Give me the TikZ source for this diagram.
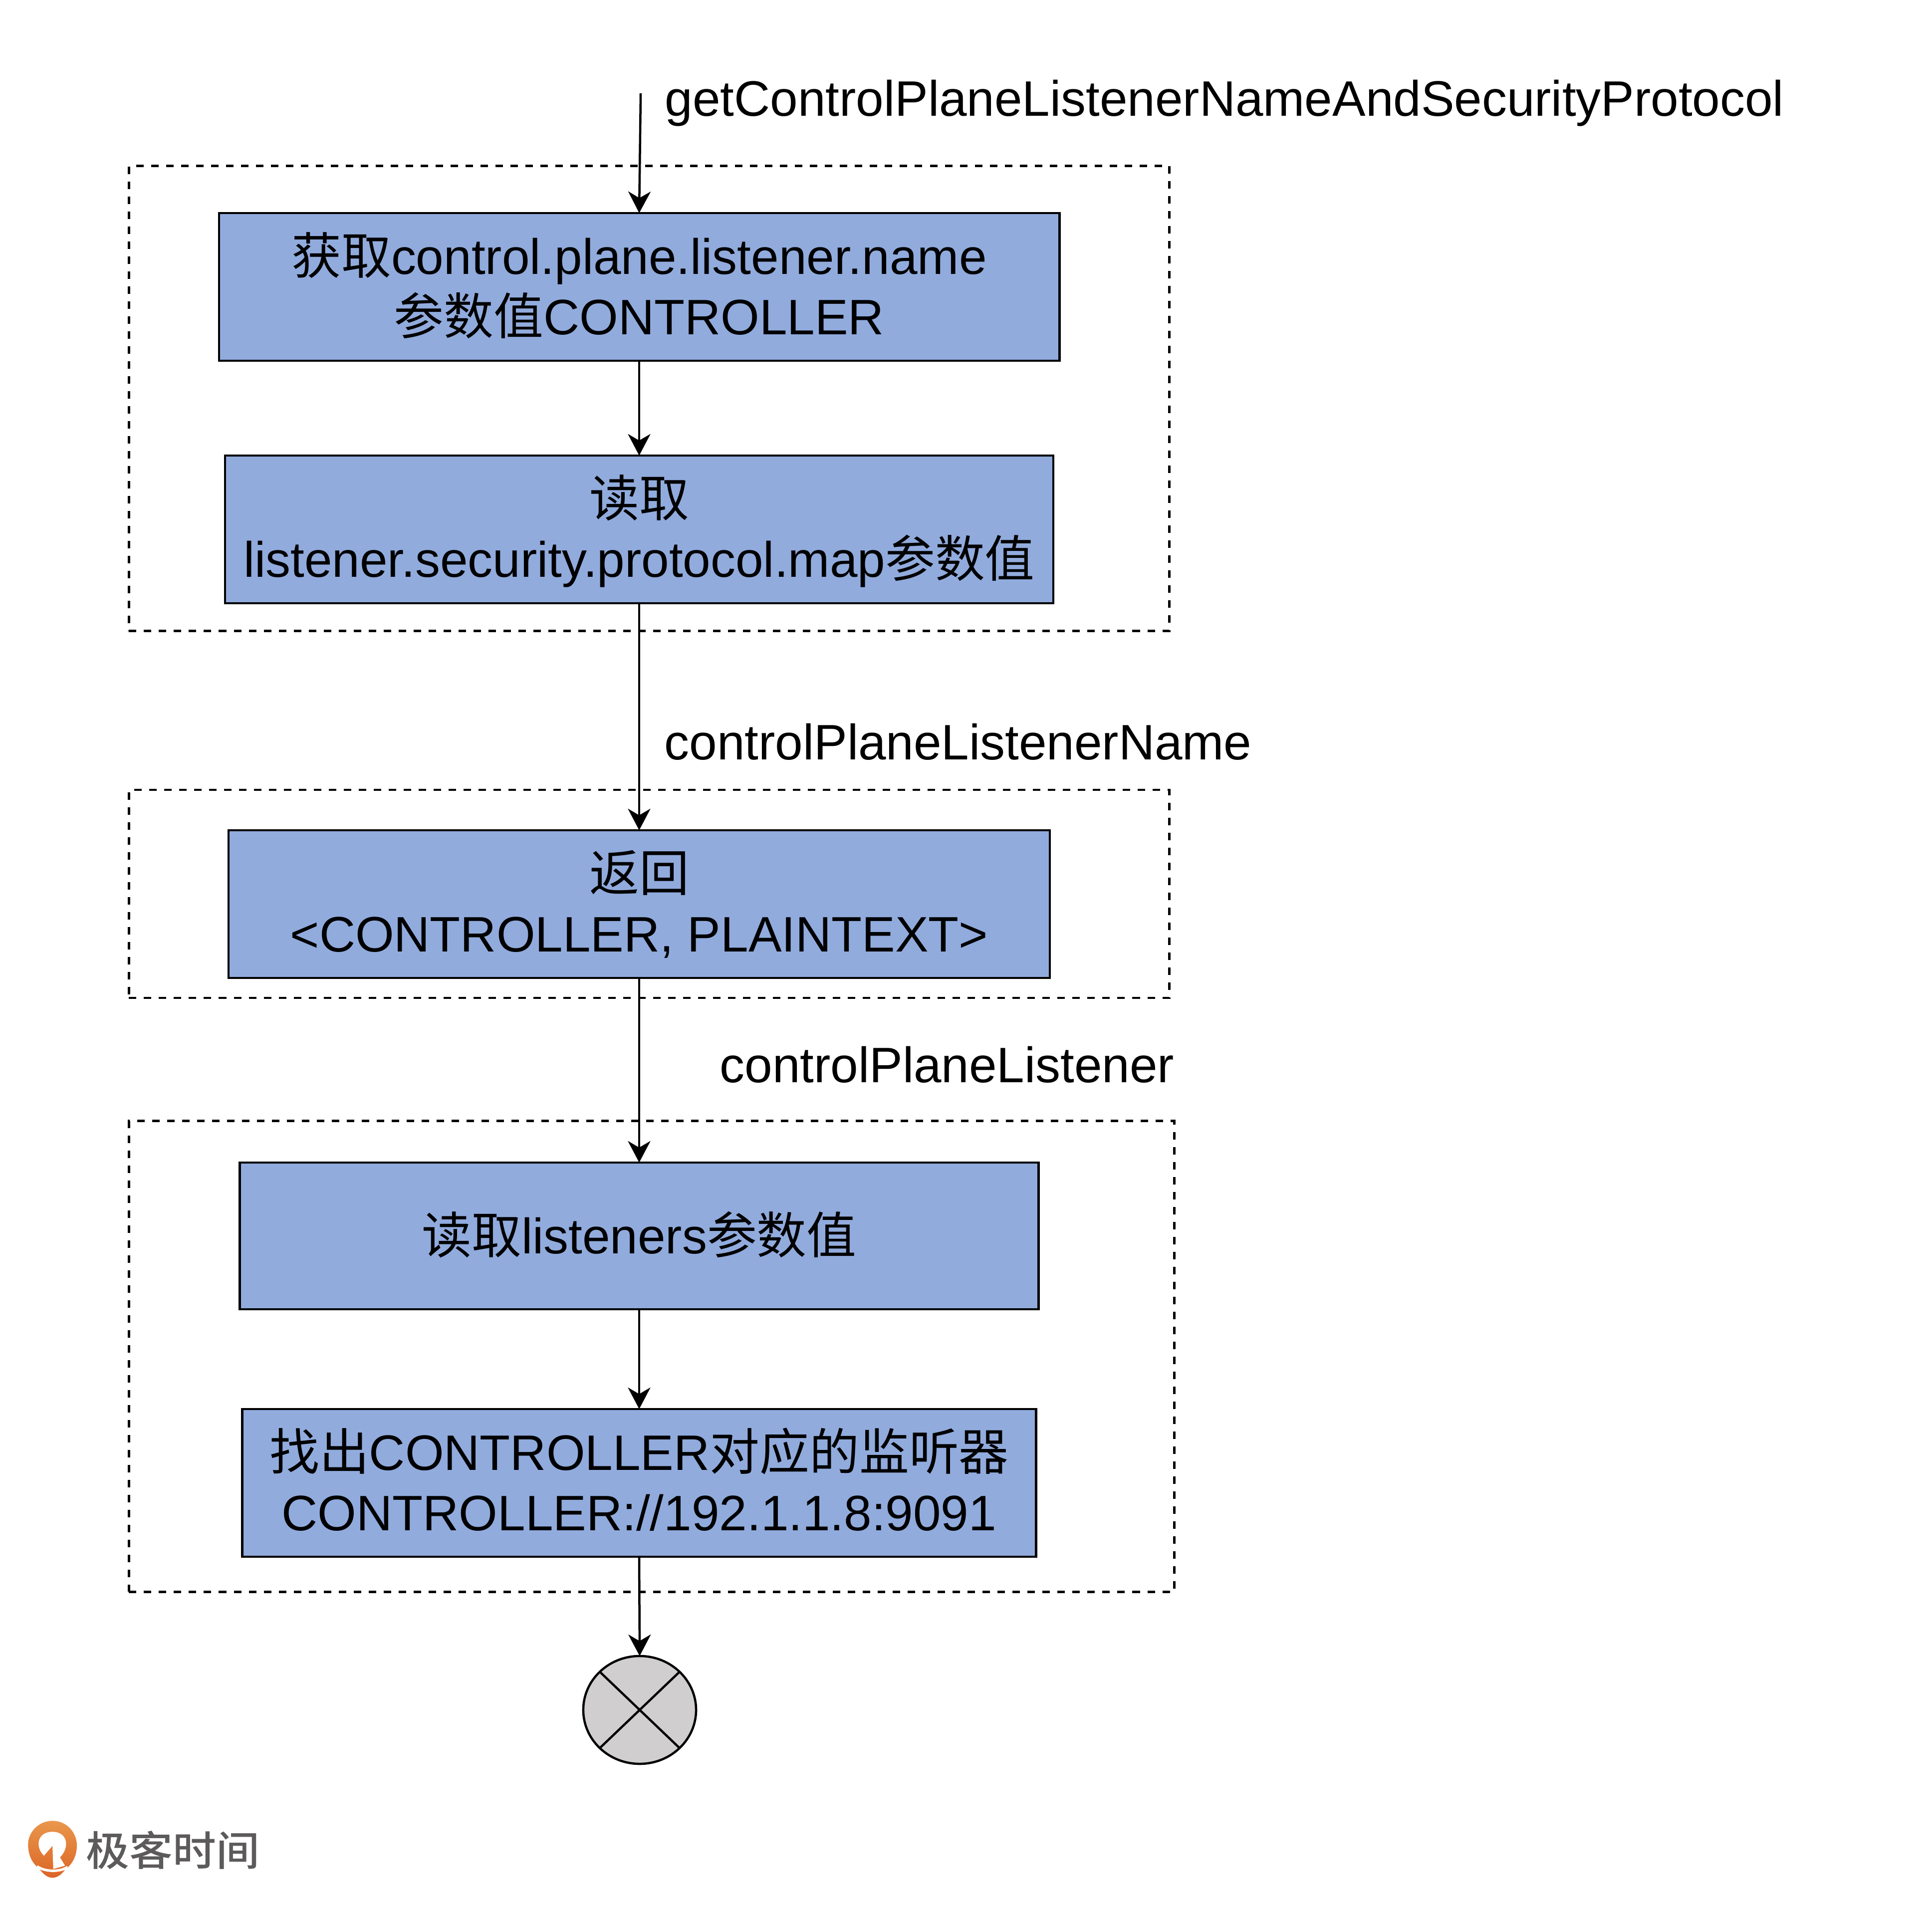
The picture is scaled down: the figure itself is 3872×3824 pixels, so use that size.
\documentclass[tikz,border=0pt]{standalone}
\usepackage{fontspec}
\setmainfont{Liberation Sans}
\newfontfamily\cjk{Noto Sans CJK SC}
\newfontfamily\logocjk{Noto Sans CJK SC Medium}
\newcommand{\zh}[1]{{\cjk #1}}
\newcommand{\ls}{\rule[-7.2pt]{0pt}{34.4pt}}
\usetikzlibrary{arrows.meta,shapes.geometric}
\definecolor{boxblue}{HTML}{91ABDD}
\definecolor{endgray}{HTML}{D0CECE}
\definecolor{logogray}{HTML}{5C5A5A}
\definecolor{logotop}{HTML}{E9974C}
\definecolor{logobot}{HTML}{DC6526}
\tikzset{
  x=0.01cm,y=-0.01cm,
  proc/.style={draw=black,fill=boxblue,line width=0.045cm,align=center,inner sep=0pt,outer sep=0pt,
    font=\fontsize{28.4}{34.4}\selectfont},
  grp/.style={draw=black,line width=0.045cm,dash pattern=on 0.15cm off 0.15cm,inner sep=0pt},
  lbl/.style={anchor=base west,inner sep=0pt,font=\fontsize{28.4}{34.4}\selectfont},
  flow/.style={draw=black,line width=0.045cm,-{Stealth[length=0.43cm,width=0.45cm,inset=0.13cm]}},
}
\begin{document}
\begin{tikzpicture}
\useasboundingbox (0,0) rectangle (3872,3824);
% dashed groups
\node[grp,minimum width=20.84cm,minimum height=9.31cm] (g1) at (1301,798.5) {};
\node[grp,minimum width=20.84cm,minimum height=4.17cm] (g2) at (1301,1791.5) {};
\node[grp,minimum width=20.94cm,minimum height=9.43cm] (g3) at (1306,2718.5) {};
% process boxes
\node[proc,minimum width=16.835cm,minimum height=2.96cm] (a) at (1281,575) {\ls\zh{获取}control.plane.listener.name\\\ls\zh{参数值}CONTROLLER};
\node[proc,minimum width=16.59cm,minimum height=2.96cm] (b) at (1281,1061) {\ls\zh{读取}\\\ls listener.security.protocol.map\zh{参数值}};
\node[proc,minimum width=16.45cm,minimum height=2.96cm] (c) at (1281,1812) {\ls\zh{返回}\\\ls <CONTROLLER, PLAINTEXT>};
\node[proc,minimum width=16.00cm,minimum height=2.94cm] (d) at (1281,2477) {\ls\zh{读取}listeners\zh{参数值}};
\node[proc,minimum width=15.90cm,minimum height=2.96cm] (e) at (1281,2972) {\ls\zh{找出}CONTROLLER\zh{对应的监听器}\\\ls CONTROLLER://192.1.1.8:9091};
% end symbol
\node[draw=black,fill=endgray,line width=0.045cm,ellipse,minimum width=2.26cm,minimum height=2.16cm,inner sep=0pt,outer sep=0pt] (end) at (1282,3427) {};
\draw[line width=0.045cm] (end.north west) -- (end.south east) (end.north east) -- (end.south west);
% labels
\node[lbl] (l1) at (1332,232) {getControlPlaneListenerNameAndSecurityProtocol};
\node[lbl] (l2) at (1331,1522) {controlPlaneListenerName};
\node[lbl] (l3) at (1442,2169) {controlPlaneListener};
% connectors
\coordinate (start) at (1284,187);
\draw[flow] (start) -- (a.north);
\draw[flow] (a.south) -- (b.north);
\draw[flow] (b.south) -- (c.north);
\draw[flow] (c.south) -- (d.north);
\draw[flow] (d.south) -- (e.north);
\draw[flow] (e.south) -- (end.north);
% logo
\begin{scope}[shift={(0cm,-35.6cm)},x=0.00408cm,y=-0.00333cm]
\shade[top color=logotop,bottom color=logobot]
  (258,262) .. controls (330,262) and (378,335) .. (378,410)
  .. controls (378,480) and (350,530) .. (322,552)
  .. controls (305,585) and (280,605) .. (258,605)
  .. controls (236,605) and (212,585) .. (192,548)
  .. controls (160,520) and (138,470) .. (138,405)
  .. controls (138,330) and (190,262) .. (258,262) -- cycle;
\fill[white] (216,472) .. controls (172,420) and (182,328) .. (258,328)
  .. controls (332,328) and (345,420) .. (295,482)
  -- (320,532) -- (262,552) -- (258,412) -- cycle;
\draw[white,line width=0.05cm] (182,536) .. controls (220,570) and (295,572) .. (332,540);
\node[anchor=west,inner sep=0pt,text=logogray,font=\logocjk\fontsize{23.3}{28}\selectfont] (logo) at (422,438) {\scalebox{1.06}[1]{极客时间}};
\end{scope}
\end{tikzpicture}
\end{document}
